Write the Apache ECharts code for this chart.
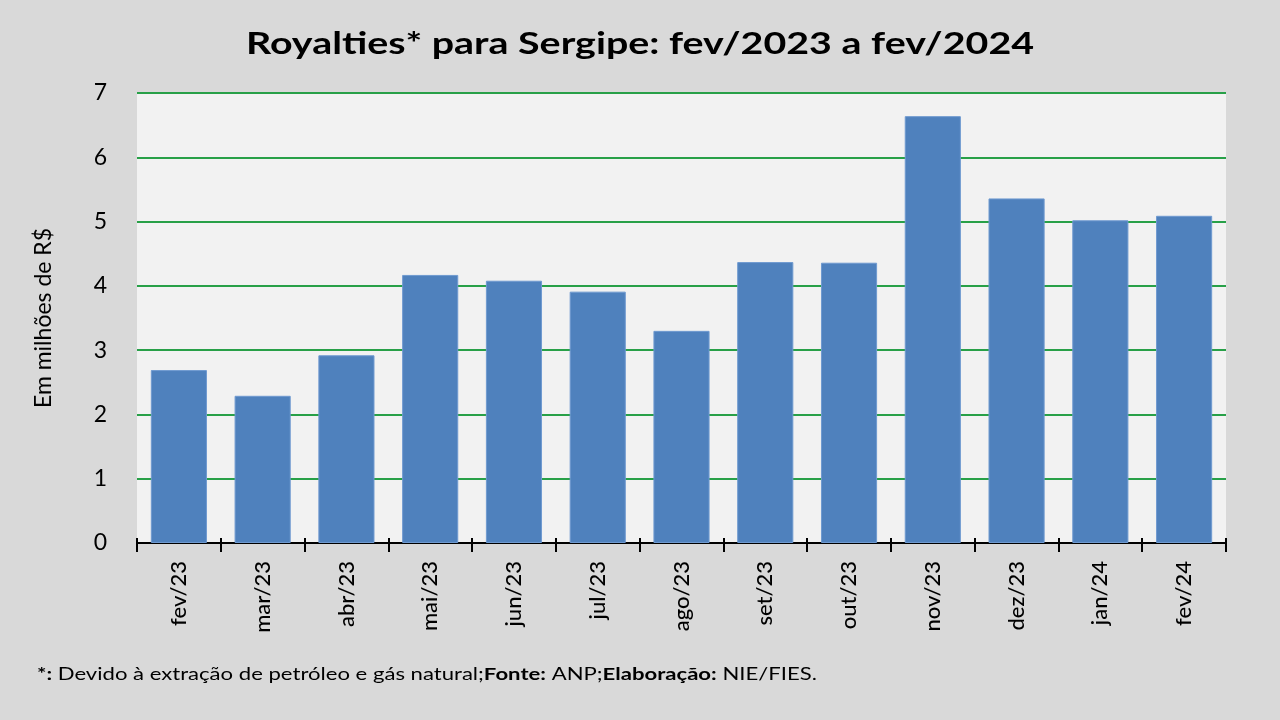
<!DOCTYPE html>
<html>
<head>
<meta charset="utf-8">
<script src="https://cdn.jsdelivr.net/npm/echarts@6/dist/echarts.min.js"></script>
<style>
  html, body { margin: 0; padding: 0; background: #d9d9d9; }
  #chart { width: 1280px; height: 720px; }
</style>
</head>
<body>
<div id="chart"></div>
<script>
const months = ["fev/23", "mar/23", "abr/23", "mai/23", "jun/23", "jul/23", "ago/23",
                "set/23", "out/23", "nov/23", "dez/23", "jan/24", "fev/24"];
const royalties = [2.69, 2.29, 2.92, 4.17, 4.08, 3.91, 3.30, 4.37, 4.36, 6.64, 5.36, 5.02, 5.09];
const yTicks = [0, 1, 2, 3, 4, 5, 6, 7];

const FONT = "Lato, 'Open Sans', sans-serif";

const chart = echarts.init(document.getElementById("chart"));
chart.setOption({
  backgroundColor: "#d9d9d9",
  animation: false,
  // the source picture is stretched sideways, so the texts are widened a bit
  graphic: [{
    type: "text",
    x: 640, y: 44, scaleX: 1.27,
    style: {
      text: "Royalties* para Sergipe: fev/2023 a fev/2024",
      textAlign: "center", textVerticalAlign: "middle",
      fontFamily: FONT, fontSize: 31, fontWeight: "bold", fill: "#000"
    }
  }, {
    type: "text",
    x: 37, y: 675, scaleX: 1.3,
    style: {
      text: "{b|*:} Devido à extração de petróleo e gás natural;{b|Fonte:} ANP;{b|Elaboração:} NIE/FIES.",
      textVerticalAlign: "middle",
      fontFamily: FONT, fontSize: 17, fill: "#000",
      rich: {
        b: { fontFamily: FONT, fontSize: 17, fontWeight: "bold", fill: "#000" }
      }
    }
  }],
  grid: {
    left: 137, right: 54, top: 93, bottom: 177,
    show: true, backgroundColor: "#f2f2f2", borderWidth: 0
  },
  xAxis: [{
    type: "category",
    data: months,
    axisLine: { lineStyle: { color: "#000", width: 2 } },
    axisTick: { show: true, length: 9, lineStyle: { color: "#000", width: 2 } },
    axisLabel: {
      rotate: 90, margin: 18, color: "#000",
      fontFamily: FONT, fontSize: 22, fontWeight: 500
    }
  }, {
    // inner half of the ticks, so they cross the axis line
    type: "category",
    data: months,
    position: "bottom",
    axisLine: { show: false },
    axisTick: { show: true, inside: true, length: 5, lineStyle: { color: "#000", width: 2 } },
    axisLabel: { show: false }
  }],
  yAxis: {
    type: "value",
    min: 0, max: 7, interval: 1,
    name: "Em milhões de R$",
    nameLocation: "middle",
    nameGap: 82,
    nameRotate: 90,
    nameTextStyle: { fontFamily: FONT, fontSize: 23, color: "#000" },
    axisLine: { show: false },
    axisTick: { show: false },
    axisLabel: {
      margin: 30, color: "#000", fontFamily: FONT, fontSize: 23,
      formatter: v => yTicks.includes(v) ? String(v) : ""
    },
    splitLine: { lineStyle: { color: "#28a048", width: 2 } }
  },
  series: [{
    type: "bar",
    data: royalties,
    barCategoryGap: "33%",
    itemStyle: { color: "#4f81bd", borderColor: "#6f9ad0", borderWidth: 1 }
  }]
});
</script>
</body>
</html>
